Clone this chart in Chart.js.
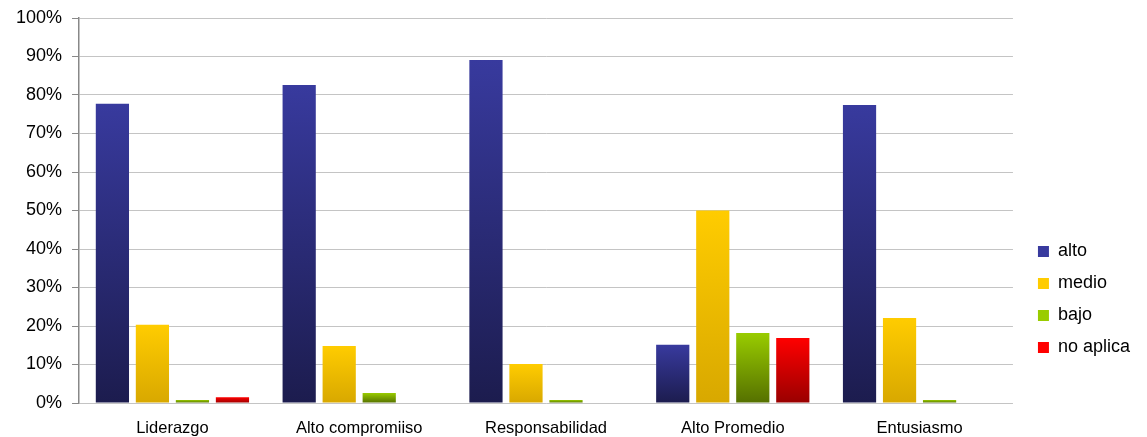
<!DOCTYPE html>
<html>
<head>
<meta charset="utf-8">
<script src="https://cdn.jsdelivr.net/npm/chart.js@4/dist/chart.umd.min.js"></script>
<style>
  html, body { margin: 0; padding: 0; background: #fff; }
</style>
</head>
<body>
<canvas id="perfil_chart" width="1147" height="437"></canvas>
<script>
const categorias = ["Liderazgo", "Alto compromiiso", "Responsabilidad", "Alto Promedio", "Entusiasmo"];
const alto = [77.7, 82.6, 89.1, 15.1, 77.4];
const medio = [20.3, 14.8, 10.1, 50, 22.1];
const bajo = [0.8, 2.6, 0.8, 18.2, 0.8];
const noAplica = [1.5, 0, 0, 16.9, 0];

// top / bottom colour of each series gradient
const colores = {
  alto: ["#383a9e", "#1c1c4e"],
  medio: ["#ffcc00", "#d8a800"],
  bajo: ["#99cc00", "#557000"],
  noAplica: ["#ff0000", "#990000"],
};

const gradiente = (pair) => (ctx) => {
  const chart = ctx.chart;
  const y = chart.scales.y;
  if (!y || ctx.type !== "data" || !ctx.raw) return pair[0];
  const top = y.getPixelForValue(ctx.raw);
  const bottom = y.getPixelForValue(0);
  if (bottom - top < 1) return pair[1];
  const g = chart.ctx.createLinearGradient(0, top, 0, bottom);
  g.addColorStop(0, pair[0]);
  g.addColorStop(1, pair[1]);
  return g;
};

const serie = (label, data, pair) => ({
  label: label,
  data: data,
  backgroundColor: gradiente(pair),
  borderWidth: 0,
  legendColor: pair,
  categoryPercentage: 0.857,
  barPercentage: 0.83,
});

const data = {
  labels: categorias,
  datasets: [
    serie("alto", alto, colores.alto),
    serie("medio", medio, colores.medio),
    serie("bajo", bajo, colores.bajo),
    serie("no aplica", noAplica, colores.noAplica),
  ],
};

// nudge the legend box right / down after layout
const moverLeyenda = {
  id: "moverLeyenda",
  afterLayout(chart, args, opts) {
    const l = chart.legend;
    if (!l) return;
    l.left += opts.dx; l.right += opts.dx;
    l.top += opts.dy; l.bottom += opts.dy;
  },
};

new Chart(document.getElementById("perfil_chart"), {
  type: "bar",
  data: data,
  plugins: [moverLeyenda],
  options: {
    responsive: false,
    animation: false,
    layout: {
      padding: { top: 4, right: 18, left: 6, bottom: 0 },
    },
    plugins: {
      tooltip: { enabled: false },
      moverLeyenda: { dx: 11, dy: 79 },
      legend: {
        position: "right",
        labels: {
          color: "#000",
          font: { family: "Liberation Sans", size: 18 },
          boxWidth: 11,
          boxHeight: 11,
          padding: 14,
          generateLabels: (chart) =>
            chart.data.datasets.map((ds, i) => ({
              text: ds.label,
              fillStyle: ds.legendColor[0],
              strokeStyle: ds.legendColor[1],
              lineWidth: 0,
              datasetIndex: i,
              hidden: false,
            })),
        },
      },
    },
    scales: {
      x: {
        grid: { display: false, drawTicks: false },
        border: { display: false },
        afterFit: (scale) => { scale.height = 34; },
        ticks: {
          color: "#000",
          font: { family: "Liberation Sans", size: 16.5 },
          padding: 16,
          maxRotation: 0,
        },
      },
      y: {
        min: 0,
        max: 100,
        afterFit: (scale) => { scale.paddingTop = 18; },
        ticks: {
          stepSize: 10,
          color: "#000",
          font: { family: "Liberation Sans", size: 18 },
          padding: 10,
          callback: (v) => v + "%",
        },
        grid: {
          color: "#c4c4c4",
          lineWidth: 1,
          tickLength: 7,
          tickColor: "#888",
        },
        border: { color: "#888", width: 1.5 },
      },
    },
  },
});
</script>
</body>
</html>
